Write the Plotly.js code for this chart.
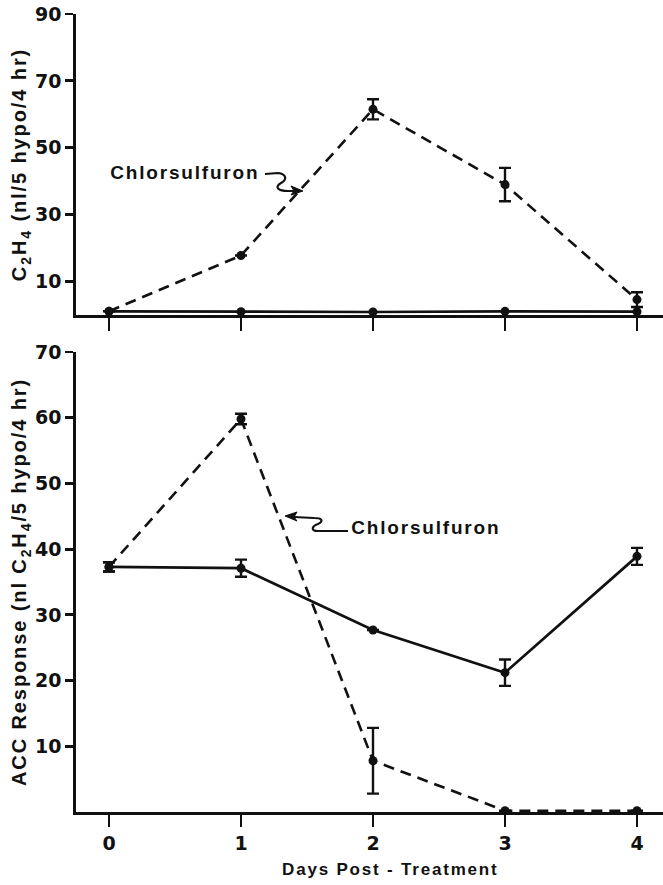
<!DOCTYPE html>
<html>
<head>
<meta charset="utf-8">
<script src="https://cdn.plot.ly/plotly-3.0.1.min.js"></script>
<style>
html,body{margin:0;padding:0;background:#fff;}
#chart{width:663px;height:885px;}
#chart text.ytitle, #chart text.y2title { letter-spacing: 1.9px; }
#chart text.annotation-text { letter-spacing: 1.8px; }
</style>
</head>
<body>
<div id="chart"></div>
<script>
// ---- data ----
const days = [0, 1, 2, 3, 4];
const dayLabels = ["0", "1", "2", "3", "4"];

// Top panel: C2H4 production
const topControl = [1.1, 1.0, 0.9, 1.1, 1.0];
const topChlor = [1.1, 17.8, 61.5, 39.0, 4.6];
const topChlorErr = [0, 0, 3.0, 5.0, 2.2];

// Bottom panel: ACC response
const botControl = [37.3, 37.1, 27.7, 21.2, 38.9];
const botControlErr = [0.7, 1.3, 0, 2.0, 1.3];
const botChlor = [37.3, 59.8, 7.8, 0.2, 0.2];
const botChlorErr = [0.7, 0.8, 5.0, 0, 0];

const topTicks = [10, 30, 50, 70, 90];
const botTicks = [10, 20, 30, 40, 50, 60, 70];

// ---- layout helpers (pixel -> paper) ----
const W = 663, H = 885, L = 76;
const px = v => (v - L) / (W - L);
const py = v => (H - v) / H;

const FONT = "Liberation Sans, Arial, Helvetica, sans-serif";
const TICKFAM = "DejaVu Sans, Liberation Sans, sans-serif";
const ink = "#111";

const mk = {color: ink, size: 9};
const errStyle = (arr) => ({type: "data", array: arr, visible: true, color: ink, thickness: 2.4, width: 6});

const traces = [
  {x: days, y: topControl, xaxis: "x2", yaxis: "y2", mode: "lines+markers",
   line: {color: ink, width: 2.7}, marker: mk, showlegend: false},
  {x: days, y: topChlor, xaxis: "x2", yaxis: "y2", mode: "lines+markers",
   line: {color: ink, width: 2.6, dash: "11px,7px"}, marker: mk,
   error_y: errStyle(topChlorErr), showlegend: false},
  {x: days, y: botControl, xaxis: "x", yaxis: "y", mode: "lines+markers",
   line: {color: ink, width: 2.7}, marker: mk,
   error_y: errStyle(botControlErr), showlegend: false},
  {x: days, y: botChlor, xaxis: "x", yaxis: "y", mode: "lines+markers",
   line: {color: ink, width: 2.6, dash: "11px,7px"}, marker: mk,
   error_y: errStyle(botChlorErr), showlegend: false}
];

const tickFont = {family: TICKFAM, size: 19, color: ink, weight: "bold"};
const titleFont = {family: FONT, size: 20, color: ink, weight: "bold"};
const noteFont = {family: FONT, size: 19, color: ink, weight: "bold"};

const xr = [-0.25, 4.197];
const axisCommon = {showline: true, linecolor: ink, linewidth: 2.8, tickcolor: ink, tickwidth: 2.8,
                    showgrid: false, zeroline: false, automargin: false, ticks: "outside"};
const layout = {
  width: W, height: H,
  margin: {l: L, r: 0, t: 0, b: 0},
  paper_bgcolor: "#fff", plot_bgcolor: "#fff",
  font: {family: FONT, color: ink},
  xaxis: Object.assign({}, axisCommon, {domain: [0, 1], range: xr, anchor: "y", tickmode: "array",
          tickvals: days, ticktext: dayLabels, ticklen: 12, tickfont: tickFont}),
  yaxis: Object.assign({}, axisCommon, {domain: [py(812), py(352)], range: [0, 70], anchor: "x",
          tickmode: "array", tickvals: botTicks, ticklen: 8, tickfont: tickFont,
          title: {text: "ACC Response (nl C<sub>2</sub>H<sub>4</sub>/5 hypo/4 hr)", font: titleFont, standoff: 3}}),
  xaxis2: Object.assign({}, axisCommon, {domain: [0, 1], range: xr, anchor: "y2", tickmode: "array",
           tickvals: days, ticklen: 13, showticklabels: false}),
  yaxis2: Object.assign({}, axisCommon, {domain: [py(315), py(14)], range: [0, 90], anchor: "x2",
           tickmode: "array", tickvals: topTicks, ticklen: 8, tickfont: tickFont,
           title: {text: "C<sub>2</sub>H<sub>4</sub> (nl/5 hypo/4 hr)", font: titleFont, standoff: 3}}),
  annotations: [
    {xref: "paper", yref: "paper", x: px(185), y: py(173), text: "Chlorsulfuron", showarrow: false,
     font: noteFont, xanchor: "center", yanchor: "middle"},
    {xref: "paper", yref: "paper", x: px(426), y: py(527), text: "Chlorsulfuron", showarrow: false,
     font: noteFont, xanchor: "center", yanchor: "middle"},
    {xref: "paper", yref: "paper", x: px(390), y: py(869), text: "Days Post - Treatment", showarrow: false,
     font: {family: FONT, size: 17, color: ink, weight: "bold"}, xanchor: "center", yanchor: "middle"}
  ],
  shapes: [
    // top squiggle arrow
    {type: "path", xref: "paper", yref: "paper", line: {color: ink, width: 2.2},
     path: `M ${px(265)} ${py(174)} L ${px(278)} ${py(173)} C ${px(287)} ${py(174)} ${px(287)} ${py(180)} ${px(281)} ${py(183)} C ${px(274)} ${py(187)} ${px(278)} ${py(191)} ${px(288)} ${py(191)} L ${px(296)} ${py(191)}`},
    {type: "path", xref: "paper", yref: "paper", line: {color: ink, width: 1}, fillcolor: ink,
     path: `M ${px(303)} ${py(191)} L ${px(291)} ${py(186)} L ${px(294)} ${py(191)} L ${px(291)} ${py(195)} Z`},
    // bottom squiggle arrow
    {type: "path", xref: "paper", yref: "paper", line: {color: ink, width: 2.2},
     path: `M ${px(348)} ${py(531)} L ${px(318)} ${py(531)} C ${px(310)} ${py(531)} ${px(312)} ${py(526)} ${px(318)} ${py(524)} C ${px(324)} ${py(521)} ${px(322)} ${py(518)} ${px(314)} ${py(518)} L ${px(294)} ${py(517)}`},
    {type: "path", xref: "paper", yref: "paper", line: {color: ink, width: 1}, fillcolor: ink,
     path: `M ${px(285)} ${py(516)} L ${px(297)} ${py(512)} L ${px(294)} ${py(517)} L ${px(297)} ${py(521)} Z`}
  ]
};

Plotly.newPlot("chart", traces, layout, {staticPlot: true, displayModeBar: false});
</script>
</body>
</html>
